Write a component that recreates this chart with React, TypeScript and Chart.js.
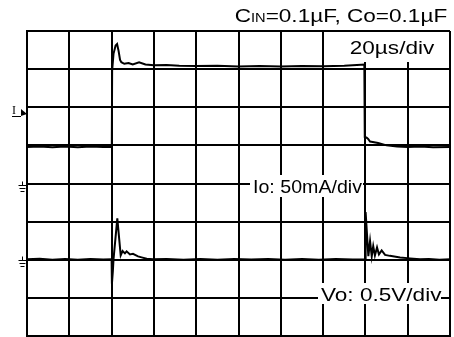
import React, { useEffect, useRef } from "react";
import { Chart, registerables } from "chart.js";

Chart.register(...registerables);

// Oscilloscope settings
const TIME_PER_DIV_US = 20;
const H_DIVS = 10;
const V_DIVS = 8;
const IO_MA_PER_DIV = 50;
const VO_MV_PER_DIV = 500;
const IO_ZERO_DIV = 0.96;
const VO_ZERO_DIV = -1.99;
const TRIGGER_DIV = 1.85;

// Output current trace (µs, mA)
const IO_TIME_US = [
  0, 6, 12, 18, 24, 30, 36, 40.1, 40.25, 40.9, 41.9, 42.6, 43.3, 44.0, 44.6, 46, 48, 50, 53, 56, 60, 66, 72, 80, 90,
  100, 110, 120, 130, 140, 150, 156, 159.5, 159.7, 160.6, 161.3, 162.2, 163.5, 166, 170, 175, 180, 186, 192, 200,
];
const IO_MA = [
  0, 0.5, -0.4, 0.6, -0.3, 0.4, -0.2, 0, 100, 122, 133, 135, 126, 114, 111, 109, 110, 108, 111, 108, 107, 107.5, 106.5,
  106, 106.5, 105.5, 106, 105.5, 106, 105.8, 106.5, 107.5, 108, 13, 12, 10.5, 7, 6.5, 5, 2, 0.6, 0, 0.4, -0.3, 0,
];

// Output voltage deviation trace (µs, mV)
const VO_TIME_US = [
  0, 6, 12, 18, 24, 30, 36, 40.0, 40.15, 40.6, 40.9, 42.7, 44.3, 45.2, 46.3, 47.1, 48.7, 50.1, 52.5, 54.2, 56.6, 59.6,
  66, 74, 82, 90, 98, 106, 114, 122, 130, 138, 146, 154, 159.9, 160.1, 161.4, 162.2, 163.0, 163.7, 164.5, 165.5, 166.4,
  167.7, 169.3, 171.6, 176.4, 181.1, 185.8, 190, 195, 200,
];
const VO_MV = [
  0, 8, -5, 6, -4, 5, -3, 0, -320, -150, 0, 537, 52, 109, 79, 105, 65, 72, 39, 26, 7, 0, 6, -4, 5, -6, 4, -3, 6, -5, 4,
  -4, 6, -3, 0, 619, 43, 240, 39, 174, 52, 157, 65, 118, 59, 46, 26, 13, 0, 5, -4, 0,
];

const ioPoints = IO_TIME_US.map((t, i) => ({ x: t, y: IO_ZERO_DIV + IO_MA[i] / IO_MA_PER_DIV }));
const voPoints = VO_TIME_US.map((t, i) => ({ x: t, y: VO_ZERO_DIV + VO_MV[i] / VO_MV_PER_DIV }));

const FONT = '"Liberation Sans", Arial, Helvetica, sans-serif';

export default function App() {
  const ref = useRef<HTMLCanvasElement>(null);

  useEffect(() => {
    const markers = {
      id: "markers",
      afterDraw(chart: any) {
        const ctx = chart.ctx as CanvasRenderingContext2D;
        const y = chart.scales.y;
        const left = chart.chartArea.left;
        ctx.save();
        ctx.fillStyle = "#000";
        ctx.strokeStyle = "#000";
        ctx.lineWidth = 1;
        // trigger arrow
        const ty = Math.round(y.getPixelForValue(TRIGGER_DIV));
        ctx.beginPath();
        ctx.moveTo(left - 6, ty - 4);
        ctx.lineTo(left, ty + 1);
        ctx.lineTo(left - 6, ty + 3);
        ctx.closePath();
        ctx.fill();
        // ground symbols
        const grounds = [0, VO_ZERO_DIV];
        for (const g of grounds) {
          const gy = Math.round(y.getPixelForValue(g)) + 0.5;
          const cx = left - 4.5;
          ctx.beginPath();
          ctx.moveTo(cx, gy - 3);
          ctx.lineTo(cx, gy + 1);
          ctx.moveTo(cx - 4, gy + 1);
          ctx.lineTo(cx + 4, gy + 1);
          ctx.moveTo(cx - 3, gy + 4);
          ctx.lineTo(cx + 3, gy + 4);
          ctx.moveTo(cx - 2, gy + 7);
          ctx.lineTo(cx + 2, gy + 7);
          ctx.stroke();
        }
        ctx.restore();
      },
    };

    const chart = new Chart(ref.current as HTMLCanvasElement, {
      type: "scatter",
      data: {
        datasets: [
          {
            label: "Io",
            data: ioPoints,
            showLine: true,
            borderColor: "#000",
            borderWidth: 2,
            pointRadius: 0,
            tension: 0,
          },
          {
            label: "Vo",
            data: voPoints,
            showLine: true,
            borderColor: "#000",
            borderWidth: 2,
            pointRadius: 0,
            tension: 0,
          },
        ],
      },
      options: {
        animation: false,
        responsive: false,
        events: [],
        layout: { padding: { left: 27, top: 31, right: 4, bottom: 1 } },
        plugins: { legend: { display: false }, tooltip: { enabled: false }, title: { display: false } },
        scales: {
          x: {
            type: "linear",
            min: 0,
            max: TIME_PER_DIV_US * H_DIVS,
            ticks: { display: false, stepSize: TIME_PER_DIV_US },
            grid: { color: "#000", lineWidth: 2, drawTicks: false },
            border: { color: "#000", width: 2 },
          },
          y: {
            type: "linear",
            min: -V_DIVS / 2,
            max: V_DIVS / 2,
            ticks: { display: false, stepSize: 1 },
            grid: { color: "#000", lineWidth: 2, drawTicks: false },
            border: { color: "#000", width: 2 },
          },
        },
      },
      plugins: [markers],
    });
    return () => chart.destroy();
  }, []);

  const textBase: React.CSSProperties = {
    position: "absolute",
    fontFamily: FONT,
    fontSize: 18.5,
    lineHeight: "18.5px",
    color: "#000",
    whiteSpace: "nowrap",
    transform: "scaleX(1.22)",
  };

  return (
    <div style={{ position: "fixed", left: 0, top: 0, width: 454, height: 337, background: "#fff", overflow: "hidden" }}>
      <canvas ref={ref} width={454} height={337} style={{ position: "absolute", left: 0, top: 0 }} />
      <div style={{ ...textBase, right: 7, top: 7.3, transformOrigin: "right center" }}>
        C<span style={{ fontSize: 12 }}>IN</span>=0.1µF, Co=0.1µF
      </div>
      <div style={{ position: "absolute", left: 340, top: 32, width: 109, height: 30, background: "#fff" }} />
      <div style={{ ...textBase, right: 20, top: 39.3, transformOrigin: "right center" }}>20µs/div</div>
      <div style={{ position: "absolute", left: 250, top: 175, width: 113, height: 22, background: "#fff" }} />
      <div style={{ ...textBase, left: 253, top: 178, transformOrigin: "left center", transform: "scaleX(1.06)" }}>
        Io: 50mA/div
      </div>
      <div style={{ position: "absolute", left: 318, top: 283, width: 123, height: 21, background: "#fff" }} />
      <div style={{ ...textBase, left: 321, top: 286.3, transformOrigin: "left center" }}>Vo: 0.5V/div</div>
      <div
        style={{
          position: "absolute",
          left: 12,
          top: 104,
          fontFamily: '"Liberation Serif", serif',
          fontSize: 12,
          lineHeight: "12px",
          borderBottom: "1px solid #000",
          width: 9,
        }}
      >
        I
      </div>
    </div>
  );
}
